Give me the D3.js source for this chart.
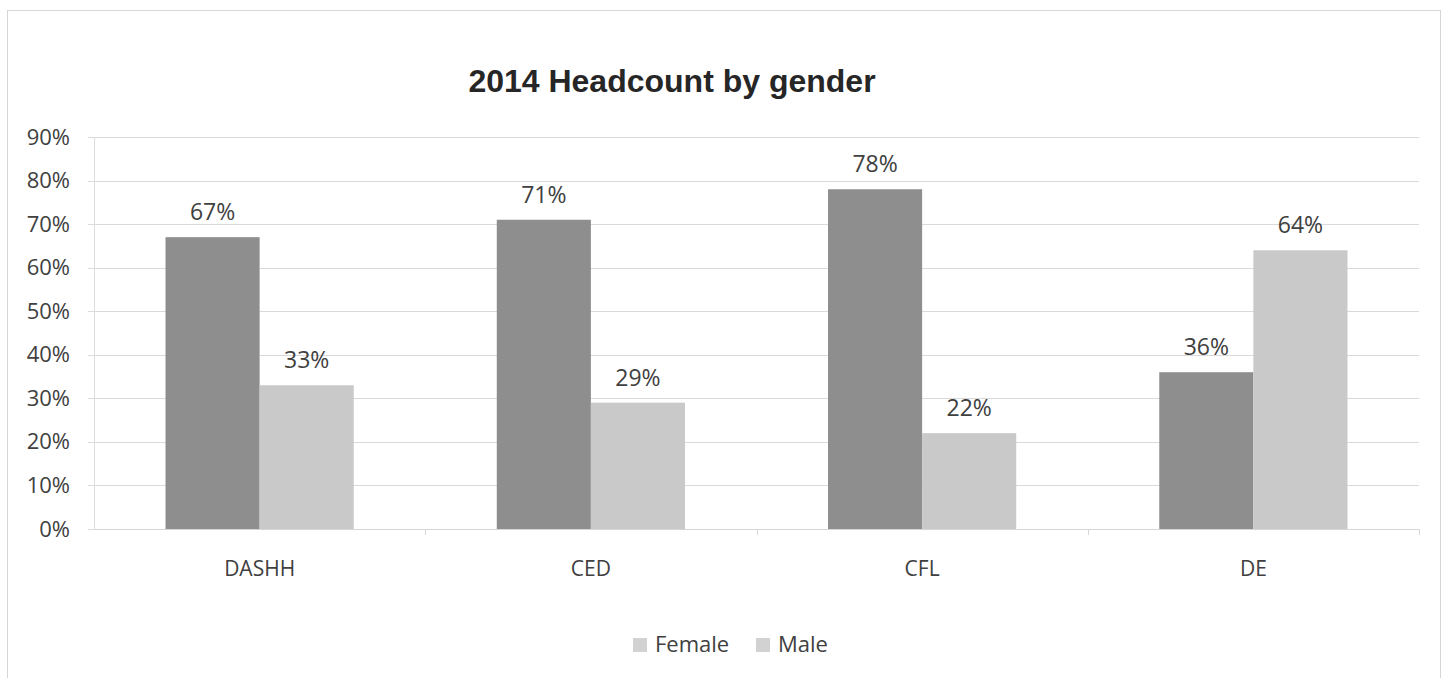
<!DOCTYPE html>
<html>
<head>
<meta charset="utf-8">
<script src="https://cdn.jsdelivr.net/npm/d3@7/dist/d3.min.js"></script>
<style>
  html, body { margin: 0; padding: 0; background: #fff; }
  svg { display: block; }
</style>
</head>
<body>
<svg id="chart" width="1454" height="678"></svg>
<script>
// Headcount share by gender per unit, 2014
const categories = ["DASHH", "CED", "CFL", "DE"];
const seriesNames = ["Female", "Male"];
const femaleValues = [67, 71, 78, 36];
const maleValues = [33, 29, 22, 64];
const yTicks = [0, 10, 20, 30, 40, 50, 60, 70, 80, 90];

const colors = { Female: "#8e8e8e", Male: "#c9c9c9" };
const legendSwatch = "#d2d2d2";
const labelFont = "'Open Sans', 'Liberation Sans', sans-serif";
const textColor = "#404040";

const svg = d3.select("#chart");

// Outer chart frame
svg.append("rect")
  .attr("x", 7.5).attr("y", 10.5)
  .attr("width", 1433).attr("height", 700)
  .attr("fill", "none")
  .attr("stroke", "#d6d6d6")
  .attr("stroke-width", 1);

const plot = { left: 94, right: 1419, top: 137, bottom: 529 };

const x = d3.scaleBand()
  .domain(categories)
  .range([plot.left, plot.right])
  .paddingInner(0)
  .paddingOuter(0);

const y = d3.scaleLinear()
  .domain([0, 90])
  .range([plot.bottom, plot.top]);

// Horizontal gridlines
svg.append("g")
  .selectAll("line")
  .data(yTicks)
  .join("line")
  .attr("x1", plot.left - 6)
  .attr("x2", plot.right)
  .attr("y1", d => Math.round(y(d)) + 0.5)
  .attr("y2", d => Math.round(y(d)) + 0.5)
  .attr("stroke", "#dadada")
  .attr("stroke-width", 1);

// Y axis labels
const yAxis = d3.axisLeft(y)
  .tickValues(yTicks)
  .tickFormat(d => d + "%")
  .tickSize(0)
  .tickPadding(24);

const yg = svg.append("g")
  .attr("transform", `translate(${plot.left},0)`)
  .call(yAxis);
yg.select(".domain").attr("stroke", "#dcdcdc");
yg.selectAll("text")
  .attr("font-family", labelFont)
  .attr("font-size", 22)
  .attr("fill", textColor);

// X axis with category dividers
const xAxis = d3.axisBottom(x).tickSize(0).tickPadding(0);
const xg = svg.append("g")
  .attr("transform", `translate(0,${plot.bottom})`)
  .call(xAxis);
xg.select(".domain").attr("stroke", "#d6d6d6");
xg.selectAll("text")
  .attr("dy", null)
  .attr("y", 47)
  .attr("font-family", labelFont)
  .attr("font-size", 21)
  .attr("fill", textColor);

svg.append("g")
  .selectAll("line")
  .data(categories)
  .join("line")
  .attr("x1", d => Math.round(x(d) + x.bandwidth()) + 0.5)
  .attr("x2", d => Math.round(x(d) + x.bandwidth()) + 0.5)
  .attr("y1", plot.bottom)
  .attr("y2", plot.bottom + 6)
  .attr("stroke", "#d6d6d6");

// Grouped bars
const inner = d3.scaleBand()
  .domain(seriesNames)
  .range([0, x.bandwidth()])
  .paddingOuter(0.76)
  .paddingInner(0);

const rows = categories.map((c, i) => ({
  category: c,
  values: [
    { series: "Female", value: femaleValues[i] },
    { series: "Male", value: maleValues[i] }
  ]
}));

const groups = svg.append("g")
  .selectAll("g")
  .data(rows)
  .join("g")
  .attr("transform", d => `translate(${x(d.category)},0)`);

groups.selectAll("rect")
  .data(d => d.values)
  .join("rect")
  .attr("x", d => inner(d.series))
  .attr("width", inner.bandwidth())
  .attr("y", d => y(d.value))
  .attr("height", d => y(0) - y(d.value))
  .attr("fill", d => colors[d.series]);

groups.selectAll("text")
  .data(d => d.values)
  .join("text")
  .attr("x", d => inner(d.series) + inner.bandwidth() / 2)
  .attr("y", d => y(d.value) - 17)
  .attr("text-anchor", "middle")
  .attr("font-family", labelFont)
  .attr("font-size", 23)
  .attr("fill", textColor)
  .text(d => d.value + "%");

// Title
svg.append("text")
  .attr("x", 672)
  .attr("y", 92)
  .attr("text-anchor", "middle")
  .attr("font-family", "'Liberation Sans', Arial, sans-serif")
  .attr("font-weight", "bold")
  .attr("font-size", 32)
  .attr("fill", "#262626")
  .text("2014 Headcount by gender");

// Legend
const legend = svg.append("g");
const legendItems = legend.selectAll("g")
  .data(seriesNames)
  .join("g")
  .attr("transform", (d, i) => `translate(${[633, 756][i]},638)`);
legendItems.append("rect")
  .attr("width", 14).attr("height", 14)
  .attr("fill", legendSwatch);
legendItems.append("text")
  .attr("x", 22)
  .attr("y", 14)
  .attr("font-family", labelFont)
  .attr("font-size", 22)
  .attr("fill", textColor)
  .text(d => d);
</script>
</body>
</html>
